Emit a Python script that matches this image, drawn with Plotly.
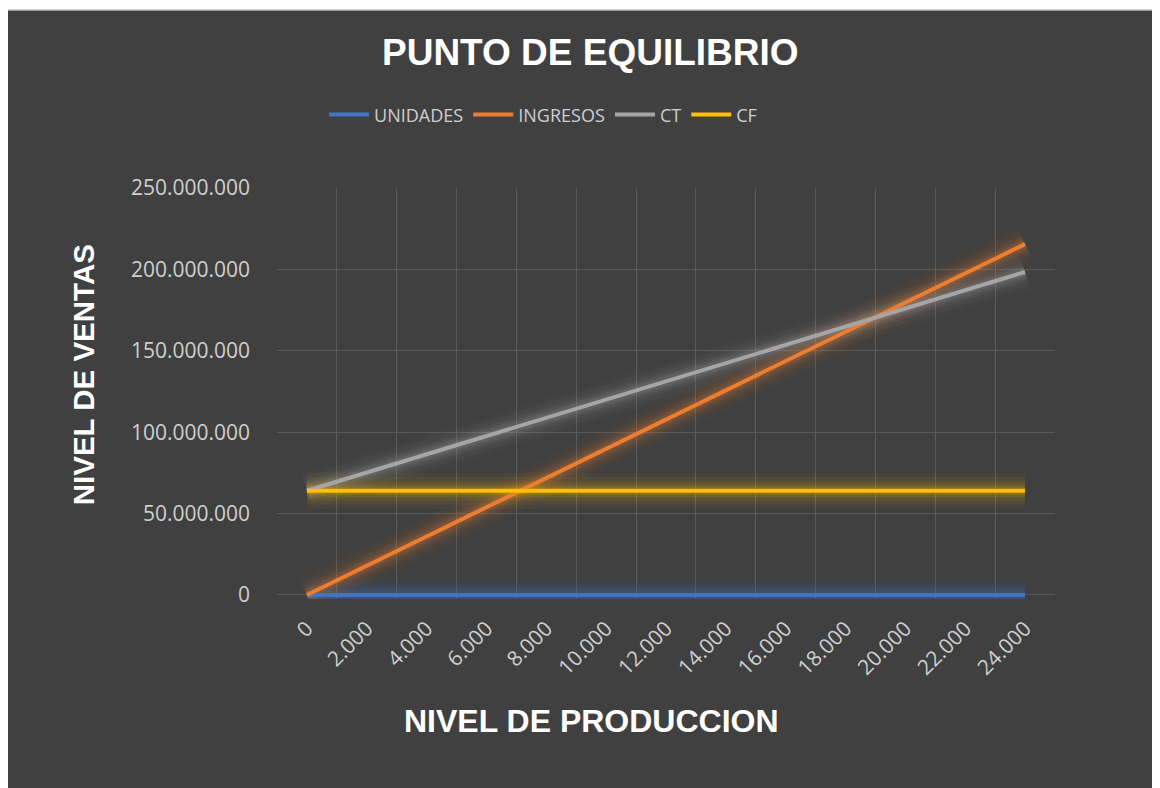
import plotly.graph_objects as go

# niveles de produccion (unidades)
unidades = [0, 2000, 4000, 6000, 8000, 10000, 12000, 14000, 16000, 18000, 20000, 22000, 24000]
ingresos = [0, 17960000, 35920000, 53880000, 71840000, 89800000, 107760000,
            125720000, 143680000, 161640000, 179600000, 197560000, 215520000]
ct = [64000000, 75200000, 86400000, 97600000, 108800000, 120000000, 131200000,
      142400000, 153600000, 164800000, 176000000, 187200000, 198400000]
cf = [64000000] * 13
y_ticks = [0, 50000000, 100000000, 150000000, 200000000, 250000000]

x_labels = [f"{u:,}".replace(",", ".") for u in unidades]
xs = list(range(len(unidades)))

series = [
    ("UNIDADES", unidades, "#4472c4", "68,114,196"),
    ("INGRESOS", ingresos, "#ed7d31", "237,125,49"),
    ("CT", ct, "#a5a5a5", "165,165,165"),
    ("CF", cf, "#ffc000", "255,192,0"),
]

fig = go.Figure()

# glow effect: wide transparent lines under each series
for name, vals, col, rgb in series:
    for w, a in [(36, 0.035), (28, 0.05), (20, 0.07), (14, 0.10), (9, 0.14)]:
        fig.add_trace(go.Scatter(x=xs, y=vals, mode="lines", showlegend=False,
                                 hoverinfo="skip",
                                 line=dict(color=f"rgba({rgb},{a})", width=w)))

for name, vals, col, rgb in series:
    fig.add_trace(go.Scatter(x=xs, y=vals, mode="lines", name=name,
                             line=dict(color=col, width=4)))

grid = "#5a5a5a"
tick_font = dict(family="Open Sans", size=21, color="#cfcfcf")

fig.update_layout(
    width=1160, height=788,
    paper_bgcolor="white", plot_bgcolor="#404040",
    margin=dict(l=269, r=113, t=180, b=197),
    separators=",.",
    title=dict(text="<b>PUNTO DE EQUILIBRIO</b>", x=0.502, y=0.944,
               xanchor="center", yanchor="middle",
               font=dict(family="Liberation Sans", size=37, color="white")),
    legend=dict(orientation="h", x=0.342, y=1.178, xanchor="center", yanchor="middle",
                font=dict(family="Open Sans", size=18, color="#cfcfcf"),
                bgcolor="rgba(0,0,0,0)", itemwidth=40, traceorder="normal"),
    shapes=[dict(type="rect", xref="paper", yref="paper", layer="below",
                 x0=-0.347, x1=1.2, y0=-0.6, y1=1.433,
                 fillcolor="#404040", line=dict(color="#bdbdbd", width=1.5))],
    annotations=[
        dict(text="<b>NIVEL DE PRODUCCION</b>", xref="paper", yref="paper",
             x=0.404, y=-0.297, xanchor="center", yanchor="middle", showarrow=False,
             font=dict(family="Liberation Sans", size=32, color="white")),
        dict(text="<b>NIVEL DE VENTAS</b>", xref="paper", yref="paper",
             x=-0.249, y=0.545, xanchor="center", yanchor="middle", showarrow=False,
             textangle=-90,
             font=dict(family="Liberation Sans", size=29.5, color="white")),
    ],
)

fig.update_xaxes(range=[-0.5, 12.5], tickvals=xs, ticktext=x_labels, tickangle=-45,
                 showgrid=False, zeroline=False, showline=False, ticks="",
                 ticklabelstandoff=12, tickfont=tick_font,
                 minor=dict(tickvals=[i - 0.5 for i in range(14)], showgrid=True,
                            gridcolor=grid, gridwidth=1, ticks=""))
fig.update_yaxes(range=[-2500000, 250000000], tickvals=y_ticks, tickformat=",d",
                 showgrid=True, gridcolor=grid, gridwidth=1, zeroline=False,
                 showline=False, ticks="", ticklabelstandoff=26, tickfont=tick_font)

fig.write_html("out.html")
